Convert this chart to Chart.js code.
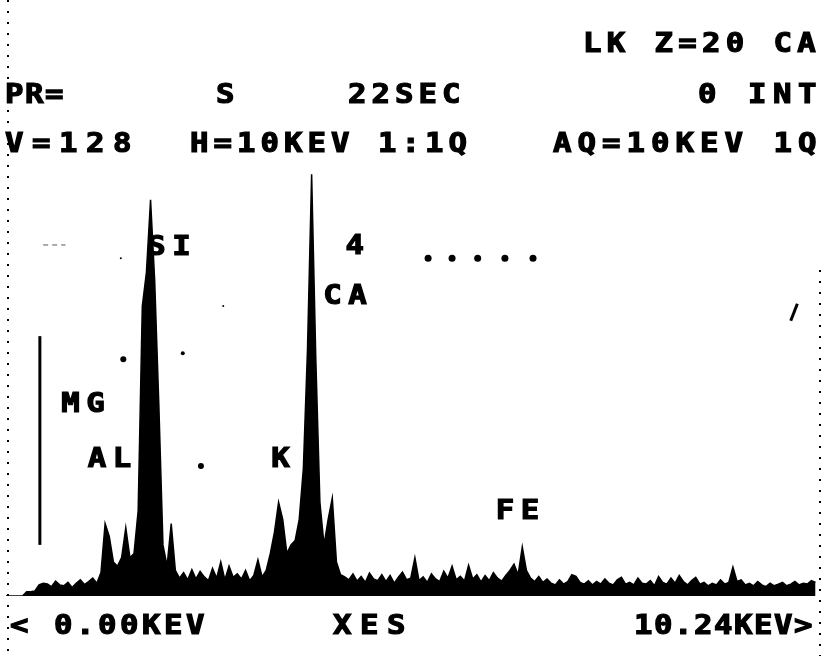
<!DOCTYPE html>
<html>
<head>
<meta charset="utf-8">
<script src="https://cdn.jsdelivr.net/npm/chart.js@4/dist/chart.umd.min.js"></script>
<style>
    html, body { margin: 0; padding: 0; background: #fff; }
</style>
</head>
<body>
<canvas id="v" width="823" height="656"></canvas>
<script>
(function () {

    // channel width of the spectrum, keV
    const CH_KEV = 0.05;

    // counts per channel, starting at 0 keV
    const counts = [
        0, 0, 0, 0, 0, 1.0, 1.0, 1.2, 2.6, 3.0,
        2.8, 2.2, 3.5, 2.6, 2.4, 3.2, 2.0, 3.0, 3.8, 2.7,
        3.4, 4.2, 3.0, 5.5, 17, 14, 8, 7, 9, 16,
        9, 10, 20, 68, 76, 93, 74, 45, 12, 7,
        17, 6, 4.2, 5.5, 3.8, 6.2, 4.0, 5.8, 4.5, 3.6,
        6.5, 4.2, 8.0, 3.8, 7.0, 4.4, 5.2, 4.0, 6.0, 3.6,
        4.8, 8.5, 4.5, 6.0, 10, 15, 22, 18, 10, 12,
        13, 18, 30, 58, 99, 56, 22, 12, 18, 23,
        8, 5, 4.5, 3.8, 5.2, 3.5, 4.6, 3.2, 5.4, 4.0,
        3.6, 5.0, 3.4, 4.8, 3.0, 4.4, 5.6, 3.8, 4.2, 9.0,
        3.6, 4.5, 3.2, 5.2, 4.0, 3.4, 5.8, 4.2, 7.0, 3.8,
        4.6, 3.5, 7.2, 4.0, 5.0, 3.3, 4.8, 3.6, 5.5, 4.2,
        3.5, 4.8, 6.0, 7.5, 5.0, 11.5, 6.0, 4.2, 3.4, 4.6,
        3.2, 4.0, 3.0, 2.6, 3.8, 2.8, 3.4, 5.0, 4.6, 3.2,
        2.8, 3.6, 2.6, 3.4, 2.8, 4.0, 3.0, 2.6, 3.8, 4.4,
        2.8, 3.2, 2.6, 4.2, 3.0, 2.8, 3.6, 2.4, 4.6, 3.2,
        2.8, 4.2, 3.0, 4.8, 3.4, 2.6, 3.6, 4.4, 2.8, 3.2,
        2.4, 3.0, 2.6, 3.8, 2.8, 3.2, 6.8, 3.4, 3.8, 2.6,
        3.0, 2.4, 3.4, 2.6, 2.2, 3.0, 2.4, 2.8, 3.2, 2.4,
        2.8, 3.4, 2.6, 3.0, 2.8, 3.6, 3.2
    ];

    // element markers: label, energy (keV), height (counts)
    const elements = ['SI', 'CA', 'MG', 'AL', 'K', 'FE', '4'];
    const elemKev = [1.97, 4.10, 0.93, 1.25, 3.32, 6.19, 4.22];
    const elemCnt = [81.7, 70.2, 44.8, 31.9, 31.9, 19.7, 81.9];

    // dotted marker row
    const dotKev = [5.11, 5.40, 5.71, 6.04, 6.38];
    const dotCnt = [79.3, 79.3, 79.3, 79.3, 79.3];

    // stray screen dots
    const strayKev = [1.39, 2.63, 1.42, 2.14, 2.36];
    const strayCnt = [79.3, 68.1, 55.6, 57.0, 30.5];
    const strayR = [1, 1, 3, 2, 3];

    // cursor bar
    const cursorKev = 0.41;
    const cursorCnt = [12, 61];

    // header lines and axis captions
    const header1 = ['LK Z=20 CA'];
    const header2 = ['PR=', 'S', '22SEC', '0 INT'];
    const header3 = ['V=128', 'H=10KEV 1:1Q', 'AQ=10KEV 1Q'];
    const footer = ['< 0.00KEV', 'XES', '10.24KEV>'];

    const FONT = 'bold 26px "DejaVu Sans Mono"';
    const GLYPH_W = 18;
    const STRETCH = 1.18;

    // draws a string one glyph per cell, glyphs widened like the terminal font
    function mono(ctx, str, x0, yBase, pitch) {
        for (let i = 0; i < str.length; i++) {
            if (str[i] === ' ')
                continue;
            ctx.save();
            ctx.translate(x0 + i * pitch, yBase);
            ctx.scale(STRETCH, 1);
            ctx.fillText(str[i], 0, 0);
            ctx.strokeText(str[i], 0, 0);
            ctx.restore();
        }
    }

    const screenText = {
        id: 'screenText',
        beforeDraw: function (chart) {
            const ctx = chart.ctx;
            ctx.save();
            ctx.fillStyle = '#fff';
            ctx.fillRect(0, 0, chart.width, chart.height);

            // dotted frame edges
            ctx.strokeStyle = '#000';
            ctx.lineWidth = 2;
            ctx.setLineDash([2, 9]);
            ctx.beginPath();
            ctx.moveTo(8, 0); ctx.lineTo(8, 656);
            ctx.moveTo(820, 270); ctx.lineTo(820, 656);
            ctx.stroke();
            ctx.restore();
        },
        afterDraw: function (chart) {
            const ctx = chart.ctx;
            const xs = chart.scales.x, ys = chart.scales.y;
            ctx.save();
            ctx.fillStyle = '#000';
            ctx.strokeStyle = '#000';
            ctx.lineWidth = 1.2;
            ctx.font = FONT;
            ctx.textAlign = 'left';
            ctx.textBaseline = 'alphabetic';

            mono(ctx, header1[0], 583, 52, 23.8);

            mono(ctx, header2[0], 5, 103, 20);
            mono(ctx, header2[1], 216, 103, 24);
            mono(ctx, header2[2], 348, 103, 23.5);
            mono(ctx, header2[3], 698, 103, 25);

            mono(ctx, header3[0], 5, 152, 27);
            mono(ctx, header3[1], 190, 152, 23.5);
            mono(ctx, header3[2], 553, 152, 24.5);

            mono(ctx, footer[0], 10, 634, 22);
            mono(ctx, footer[1], 333, 634, 27);
            mono(ctx, footer[2], 634, 634, 20);

            // element labels
            ctx.textBaseline = 'middle';
            elements.forEach(function (name, i) {
                const pitch = 25;
                const w = (name.length - 1) * pitch + GLYPH_W;
                const cx = xs.getPixelForValue(elemKev[i]);
                const cy = ys.getPixelForValue(elemCnt[i]);
                mono(ctx, name, cx - w / 2, cy, pitch);
            });
            ctx.restore();
        }
    };

    const spectrum = counts.map(function (c, i) {
        return {x: i * CH_KEV, y: c};
    });

    const config = {
        type: 'line',
        data: {
            datasets: [{
                    label: 'spectrum',
                    data: spectrum,
                    borderColor: '#000',
                    backgroundColor: '#000',
                    borderWidth: 1.5,
                    fill: 'origin',
                    pointRadius: 0,
                    tension: 0
                }, {
                    label: 'cursor',
                    data: cursorCnt.map(function (c) { return {x: cursorKev, y: c}; }),
                    borderColor: '#000',
                    borderWidth: 3,
                    pointRadius: 0,
                    fill: false
                }, {
                    label: 'markers',
                    data: dotKev.map(function (e, i) { return {x: e, y: dotCnt[i]}; }),
                    showLine: false,
                    pointRadius: 3.5,
                    pointBackgroundColor: '#000',
                    pointBorderWidth: 0
                }, {
                    label: 'stray',
                    data: strayKev.map(function (e, i) { return {x: e, y: strayCnt[i]}; }),
                    showLine: false,
                    pointRadius: strayR,
                    pointBackgroundColor: '#000',
                    pointBorderWidth: 0
                }, {
                    label: 'tick',
                    data: [{x: 9.50, y: 64.6}, {x: 9.58, y: 68.6}],
                    borderColor: '#000',
                    borderWidth: 3,
                    pointRadius: 0
                }, {
                    label: 'dash',
                    data: [{x: 0.45, y: 82.4}, {x: 0.72, y: 82.4}],
                    borderColor: '#555',
                    borderWidth: 1,
                    borderDash: [5, 4],
                    pointRadius: 0
                }]
        },
        options: {
            responsive: false,
            animation: false,
            layout: {
                padding: {left: 6, right: 5, top: 170, bottom: 60}
            },
            scales: {
                x: {type: 'linear', min: 0, max: 9.83, display: false},
                y: {type: 'linear', min: 0, max: 100, display: false}
            },
            plugins: {
                legend: {display: false},
                tooltip: {enabled: false},
                title: {display: false}
            }
        },
        plugins: [screenText]
    };

    new Chart(document.getElementById('v').getContext('2d'), config);
})();
</script>
</body>
</html>
